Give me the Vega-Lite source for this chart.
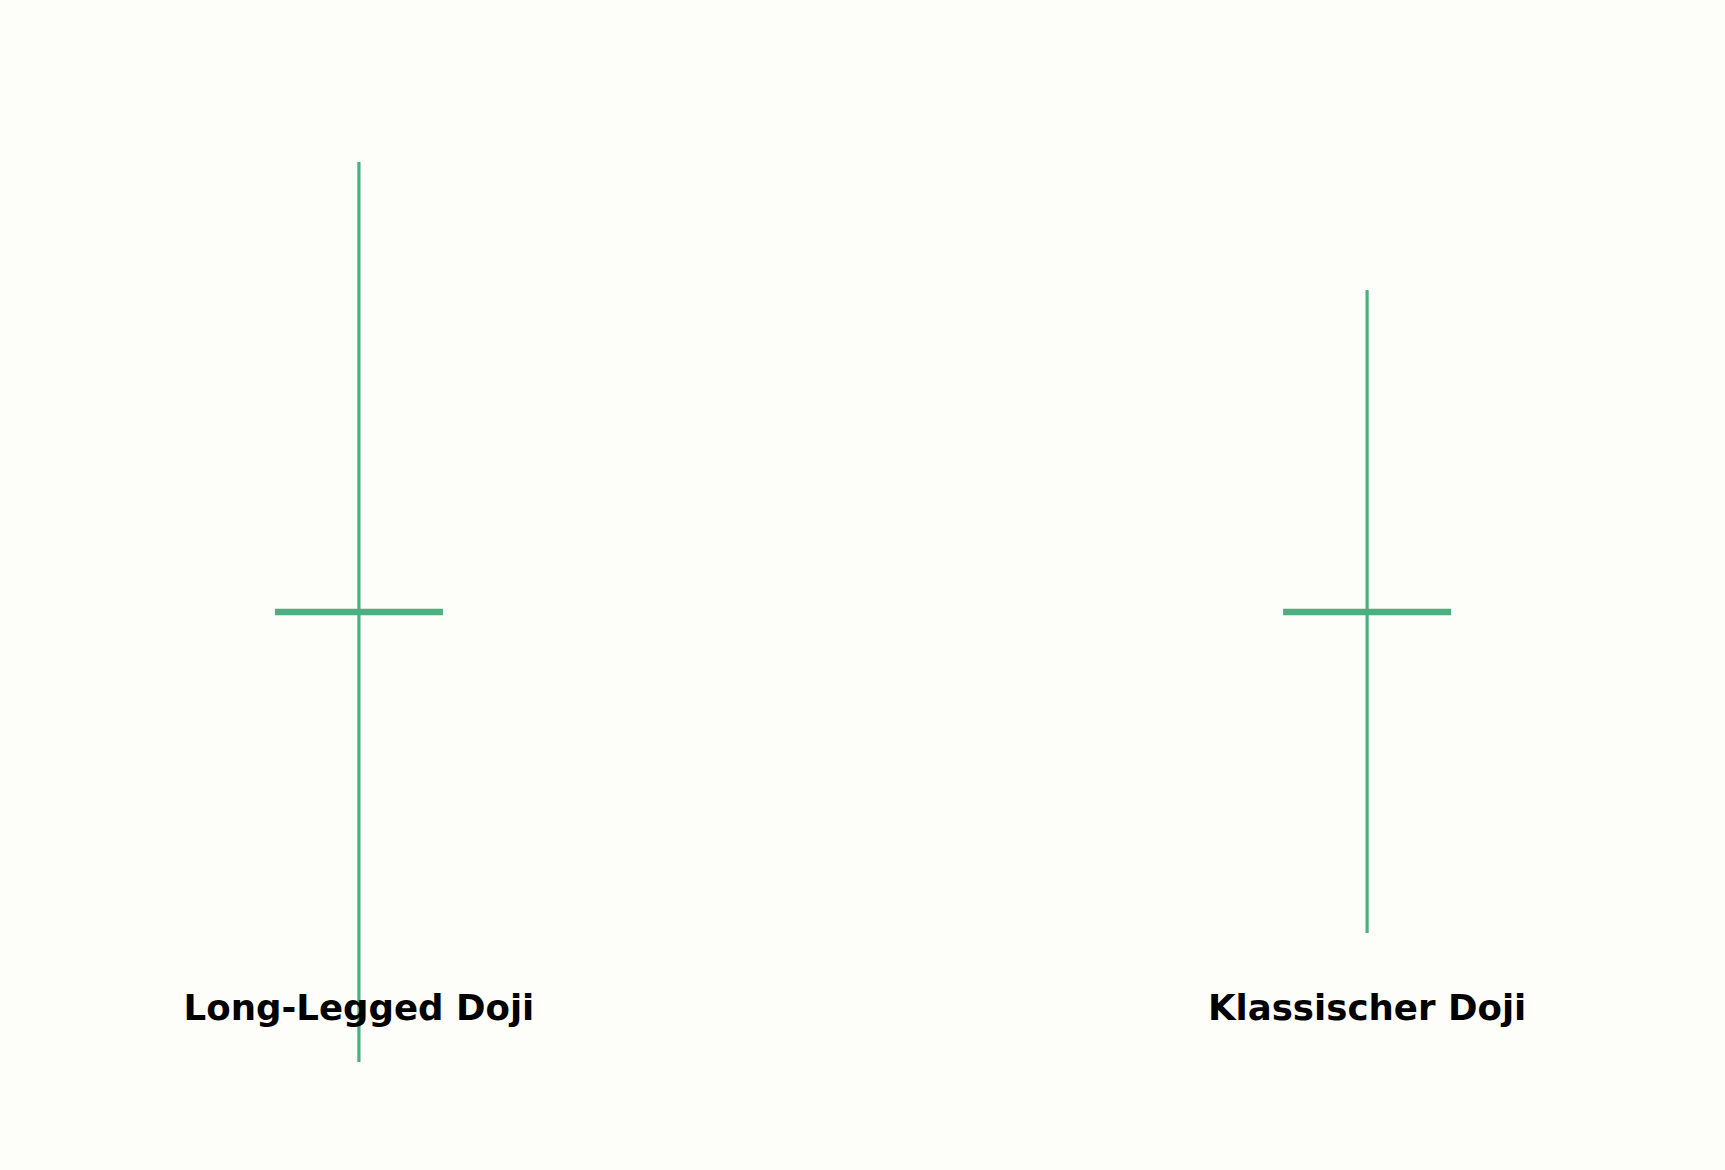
{
  "$schema": "https://vega.github.io/schema/vega-lite/v6.json",
  "width": 1725,
  "height": 1170,
  "padding": 0,
  "autosize": {"type": "none"},
  "background": "#fdfdf9",
  "config": {"view": {"stroke": null}},
  "data": {
    "values": [
      {"pattern": "Long-Legged Doji", "pos": 0, "open": 100, "high": 104.5, "low": 95.5, "close": 100, "label_y": 95.92},
      {"pattern": "Klassischer Doji", "pos": 1, "open": 100, "high": 103.22, "low": 96.79, "close": 100, "label_y": 95.92}
    ]
  },
  "encoding": {
    "x": {"field": "pos", "type": "quantitative", "scale": {"domain": [-0.356, 1.355], "nice": false, "zero": false}, "axis": null}
  },
  "layer": [
    {
      "mark": {"type": "tick", "orient": "horizontal", "color": "#4caf7f", "thickness": 6.5, "size": 168, "opacity": 1},
      "encoding": {
        "y": {"field": "close", "type": "quantitative", "scale": {"domain": [94.42, 106.12], "nice": false, "zero": false}, "axis": null}
      }
    },
    {
      "mark": {"type": "rule", "color": "#4caf7f", "strokeWidth": 3.2},
      "encoding": {
        "y": {"field": "low", "type": "quantitative"},
        "y2": {"field": "high"}
      }
    },
    {
      "mark": {"type": "text", "font": "DejaVu Sans", "fontWeight": "bold", "fontSize": 35.6, "baseline": "alphabetic", "align": "center", "color": "#000000"},
      "encoding": {
        "y": {"field": "label_y", "type": "quantitative"},
        "text": {"field": "pattern"}
      }
    }
  ]
}
